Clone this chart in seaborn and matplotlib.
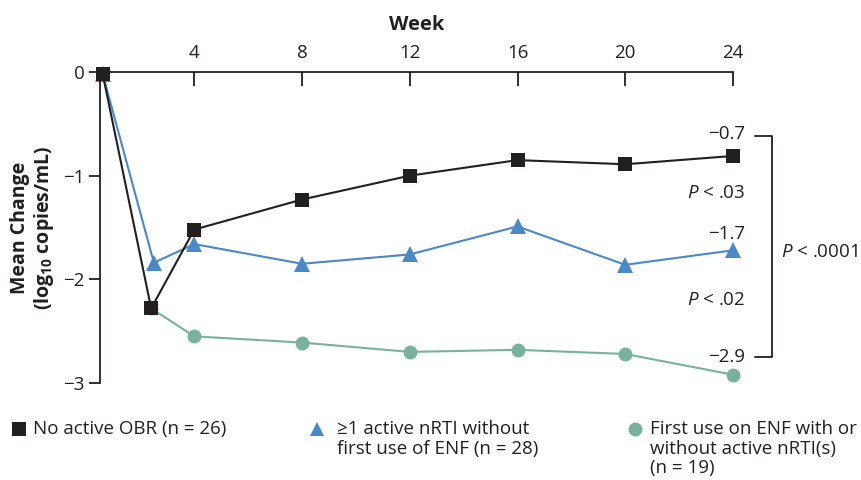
import matplotlib
matplotlib.use("Agg")
import matplotlib.pyplot as plt
from matplotlib.lines import Line2D
import seaborn as sns

# data
weeks_obr = [0.6, 2.4, 4, 8, 12, 16, 20, 24]
obr = [-0.02, -2.28, -1.52, -1.23, -1.00, -0.85, -0.89, -0.81]

weeks_nrti = [0.6, 2.5, 4, 8, 12, 16, 20, 24]
nrti = [-0.02, -1.84, -1.66, -1.85, -1.76, -1.49, -1.86, -1.72]

weeks_enf = [2.4, 4, 8, 12, 16, 20, 24]
enf = [-2.28, -2.55, -2.61, -2.70, -2.68, -2.72, -2.92]

tick_weeks = [4, 8, 12, 16, 20, 24]
y_ticks = [0, -1, -2, -3]
y_tick_labels = ["0", "\u22121", "\u22122", "\u22123"]

labels = ["No active OBR (n = 26)",
          "\u22651 active nRTI without\nfirst use of ENF (n = 28)",
          "First use on ENF with or\nwithout active nRTI(s)\n(n = 19)"]
end_values = ["\u22120.7", "\u22121.7", "\u22122.9"]

BLACK = "#231f20"
BLUE = "#4a89c6"
GREEN = "#78b29c"

sns.set_theme(style="white")
plt.rcParams["font.family"] = ["Open Sans", "DejaVu Sans"]
plt.rcParams["mathtext.fontset"] = "custom"
plt.rcParams["mathtext.it"] = "Open Sans:italic"
plt.rcParams["mathtext.rm"] = "Open Sans"
plt.rcParams["mathtext.bf"] = "Open Sans:bold"

fig = plt.figure(figsize=(8.61, 4.8), dpi=100)
ax = fig.add_axes([100 / 861, 1 - 383 / 480, 633 / 861, 311 / 480])

sns.lineplot(x=weeks_enf, y=enf, ax=ax, color=GREEN, marker="o", markersize=10,
             markeredgewidth=0, linewidth=1.5, clip_on=False)
sns.lineplot(x=weeks_nrti, y=nrti, ax=ax, color=BLUE, marker="^", markersize=11,
             markeredgewidth=0, linewidth=1.5, clip_on=False)
sns.lineplot(x=weeks_obr, y=obr, ax=ax, color=BLACK, marker="s", markersize=10,
             markeredgewidth=0, linewidth=1.5, clip_on=False)

ax.set_xlim(0.5, 24)
ax.set_ylim(-3, 0)

for s in ["right", "bottom"]:
    ax.spines[s].set_visible(False)
for s in ["left", "top"]:
    ax.spines[s].set_color(BLACK)
    ax.spines[s].set_linewidth(1.3)

ax.xaxis.tick_top()
ax.xaxis.set_label_position("top")
ax.set_xticks(tick_weeks)
ax.set_xticklabels([str(w) for w in tick_weeks], fontsize=13.5, color=BLACK)
ax.tick_params(axis="x", direction="in", length=10, width=1.3, color=BLACK, pad=-2)
for lbl in ax.get_xticklabels():
    lbl.set_y(1.04)
ax.set_xlabel("Week", fontsize=14.5, fontweight="bold", color=BLACK, labelpad=10)

ax.set_yticks(y_ticks)
ax.set_yticklabels(y_tick_labels, fontsize=13.5, color=BLACK)
ax.tick_params(axis="y", direction="out", length=8, width=1.3, color=BLACK, pad=3, left=True)
ax.set_ylabel("Mean Change\n(log$_{\\mathbf{10}}$ copies/mL)", fontsize=14,
              fontweight="bold", color=BLACK, labelpad=5, linespacing=1.15)

# bracket with end values and p-values
bx0, bx1 = 24.8, 25.45
ax.plot([bx0, bx1, bx1, bx0], [-0.62, -0.62, -2.75, -2.75], color=BLACK,
        linewidth=1.3, clip_on=False)
for txt, yv in zip(end_values, [-0.6, -1.56, -2.75]):
    ax.text(24.45, yv, txt, ha="right", va="center", fontsize=13.5, color=BLACK)
ax.text(24.45, -1.17, "$P$ < .03", ha="right", va="center", fontsize=13.5, color=BLACK)
ax.text(24.45, -2.2, "$P$ < .02", ha="right", va="center", fontsize=13.5, color=BLACK)
ax.text(25.8, -1.74, "$P$ < .0001", ha="left", va="center", fontsize=13.5, color=BLACK,
        clip_on=False)

# legend underneath
leg_x = [19 / 861, 317 / 861, 635 / 861]
text_x = [33 / 861, 337 / 861, 650 / 861]
markers = ["s", "^", "o"]
colors = [BLACK, BLUE, GREEN]
y_mark = 1 - 429 / 480
y_text = 1 - 420 / 480
for xp, tx, m, c, lab in zip(leg_x, text_x, markers, colors, labels):
    fig.add_artist(Line2D([xp], [y_mark], marker=m, color=c, markersize=10,
                          markeredgewidth=0, linestyle="none"))
    fig.text(tx, y_text, lab, ha="left", va="top", fontsize=13.5,
             color=BLACK, linespacing=1.12)

fig.savefig("out.png", dpi=100)
